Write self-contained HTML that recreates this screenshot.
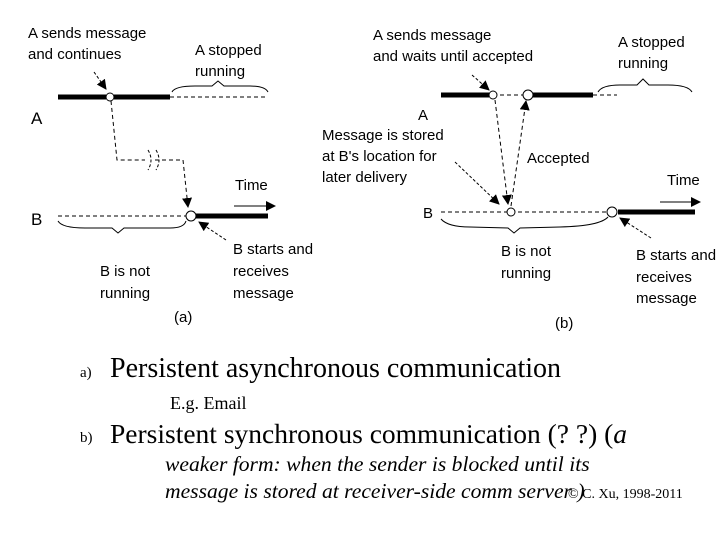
<!DOCTYPE html>
<html><head><meta charset="utf-8"><style>
body{margin:0;background:#fff;width:720px;height:540px;overflow:hidden}
svg{display:block}
.s{font-family:"Liberation Sans",sans-serif;font-size:15px;fill:#000}
.r{font-family:"Liberation Serif",serif;fill:#000}
</style></head><body>
<svg width="720" height="540" viewBox="0 0 720 540">
<defs><marker id="ar" markerWidth="10" markerHeight="10" refX="9" refY="5" orient="auto" markerUnits="userSpaceOnUse"><path d="M0,0 L10,5 L0,10z" fill="#000"/></marker></defs>
<g stroke="#000" fill="none">
<line x1="58" y1="97" x2="106" y2="97" stroke-width="5"/>
<line x1="114" y1="97" x2="170" y2="97" stroke-width="5"/>
<line x1="170" y1="97" x2="268" y2="97" stroke-dasharray="4,3"/>
<circle cx="110" cy="97" r="4" fill="#fff"/>
<path d="M172,92 Q175,86 195,86 L212,86 L218,81 L224,86 L250,86 Q265,86 268,92"/>
<line x1="94" y1="72" x2="106" y2="89" stroke-dasharray="3,2" marker-end="url(#ar)"/>
<path d="M111,101 L117,160 L145,160 M155,160 L183,160 L188,207" stroke-dasharray="4,3" marker-end="url(#ar)"/>
<path d="M148,150 q6,10 0,20 M156,150 q6,10 0,20" stroke-dasharray="3,2"/>
<line x1="58" y1="216" x2="186" y2="216" stroke-dasharray="4,3"/>
<line x1="196" y1="216" x2="268" y2="216" stroke-width="5"/>
<circle cx="191" cy="216" r="5" fill="#fff"/>
<path d="M58,221 Q62,228 85,228 L112,228 L118,233 L124,228 L170,228 Q184,228 186,221"/>
<line x1="234" y1="206" x2="275" y2="206" marker-end="url(#ar)"/>
<line x1="226" y1="240" x2="199" y2="222" stroke-dasharray="3,2" marker-end="url(#ar)"/>
<line x1="441" y1="95" x2="489" y2="95" stroke-width="5"/>
<line x1="493" y1="95" x2="528" y2="95" stroke-dasharray="4,3"/>
<line x1="533" y1="95" x2="593" y2="95" stroke-width="5"/>
<line x1="593" y1="95" x2="617" y2="95" stroke-dasharray="4,3"/>
<circle cx="493" cy="95" r="4" fill="#fff"/>
<circle cx="528" cy="95" r="5" fill="#fff"/>
<path d="M598,92 Q602,85 620,85 L637,85 L643,79 L649,85 L668,85 Q688,85 692,92"/>
<line x1="472" y1="75" x2="489" y2="90" stroke-dasharray="3,2" marker-end="url(#ar)"/>
<line x1="495" y1="100" x2="508" y2="204" stroke-dasharray="4,3" marker-end="url(#ar)"/>
<line x1="511" y1="206" x2="526" y2="101" stroke-dasharray="4,3" marker-end="url(#ar)"/>
<line x1="455" y1="162" x2="499" y2="204" stroke-dasharray="3,2" marker-end="url(#ar)"/>
<line x1="441" y1="212" x2="607" y2="212" stroke-dasharray="4,3"/>
<circle cx="511" cy="212" r="4" fill="#fff"/>
<circle cx="612" cy="212" r="5" fill="#fff"/>
<line x1="618" y1="212" x2="695" y2="212" stroke-width="5"/>
<path d="M441,219 Q448,227 470,227 L508,228 L514,233 L520,228 L560,227 Q600,226 608,217"/>
<line x1="660" y1="202" x2="700" y2="202" marker-end="url(#ar)"/>
<line x1="651" y1="238" x2="620" y2="218" stroke-dasharray="3,2" marker-end="url(#ar)"/>
</g>
<g class="s">
<text x="28" y="38">A sends message</text><text x="28" y="59">and continues</text>
<text x="195" y="55">A stopped</text><text x="195" y="76">running</text>
<text x="31" y="124" font-size="17">A</text>
<text x="31" y="225" font-size="17">B</text>
<text x="235" y="190">Time</text>
<text x="233" y="254">B starts and</text><text x="233" y="276">receives</text><text x="233" y="298">message</text>
<text x="100" y="276">B is not</text><text x="100" y="298">running</text>
<text x="174" y="322">(a)</text>
<text x="373" y="40">A sends message</text><text x="373" y="61">and waits until accepted</text>
<text x="618" y="47">A stopped</text><text x="618" y="68">running</text>
<text x="418" y="120">A</text>
<text x="322" y="140">Message is stored</text><text x="322" y="161">at B's location for</text><text x="322" y="182">later delivery</text>
<text x="527" y="163">Accepted</text>
<text x="667" y="185">Time</text>
<text x="423" y="218">B</text>
<text x="501" y="256">B is not</text><text x="501" y="278">running</text>
<text x="636" y="260">B starts and</text><text x="636" y="282">receives</text><text x="636" y="303">message</text>
<text x="555" y="328">(b)</text>
</g>
<g class="r">
<text x="80" y="377" font-size="15">a)</text>
<text x="110" y="377" font-size="28">Persistent asynchronous communication</text>
<text x="170" y="409" font-size="18">E.g. Email</text>
<text x="80" y="442" font-size="15">b)</text>
<text x="110" y="443" font-size="27.5">Persistent synchronous communication (? ?) (<tspan font-style="italic">a</tspan></text>
<text x="165" y="471" font-size="21.6" font-style="italic">weaker form: when the sender is blocked until its</text>
<text x="165" y="498" font-size="21.6" font-style="italic">message is stored at receiver-side comm server )</text>
<text x="568" y="498" font-size="14">© C. Xu, 1998-2011</text>
</g>
</svg>
</body></html>
